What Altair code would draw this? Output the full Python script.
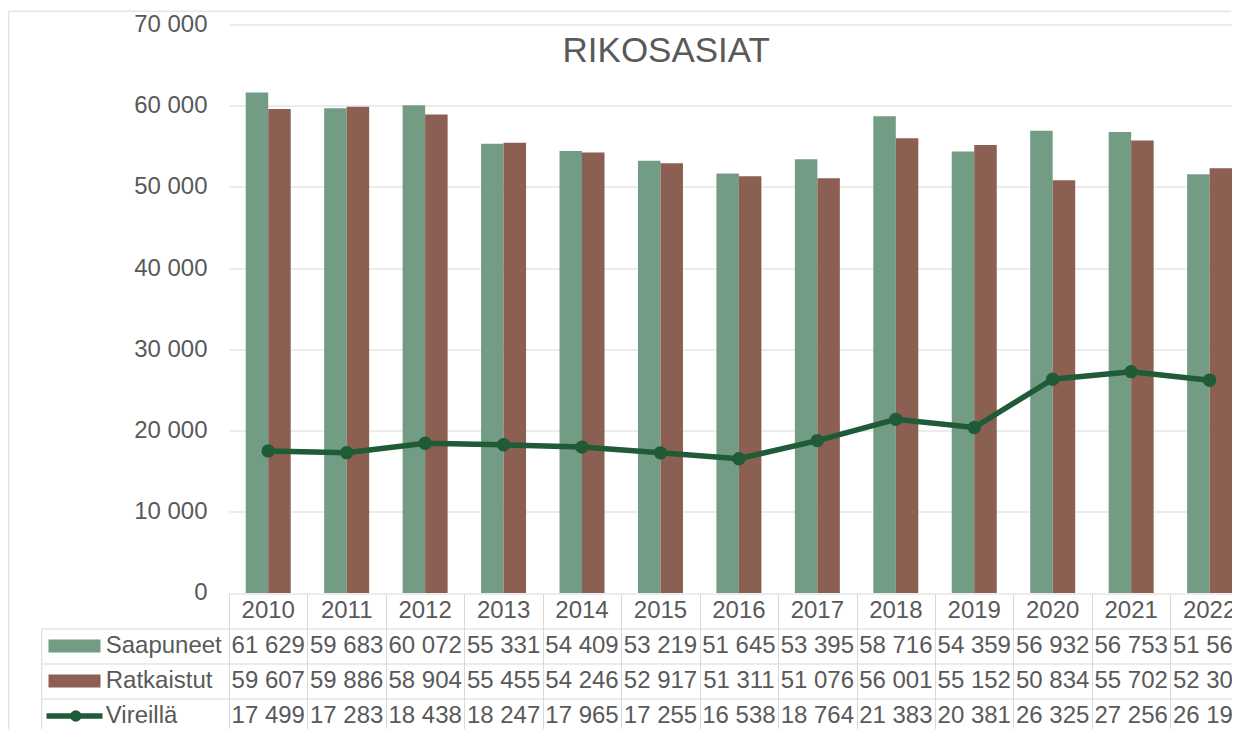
import altair as alt
import pandas as pd

# ---------------- data ----------------
years = ["2010", "2011", "2012", "2013", "2014", "2015", "2016",
         "2017", "2018", "2019", "2020", "2021", "2022"]
saapuneet = [61629, 59683, 60072, 55331, 54409, 53219, 51645,
             53395, 58716, 54359, 56932, 56753, 51566]
ratkaistut = [59607, 59886, 58904, 55455, 54246, 52917, 51311,
              51076, 56001, 55152, 50834, 55702, 52307]
vireilla = [17499, 17283, 18438, 18247, 17965, 17255, 16538,
            18764, 21383, 20381, 26325, 27256, 26198]
series_names = ["Saapuneet", "Ratkaistut", "Vireillä"]
title_text = "RIKOSASIAT"
y_ticks = [0, 10000, 20000, 30000, 40000, 50000, 60000, 70000]

# ---------------- style ----------------
FONT = "Liberation Sans"
GREEN = "#739c85"
BROWN = "#8b5f51"
LINE = "#1f5b36"
TEXT = "#595959"
GRID = "#d9d9d9"

STEP = 78.45
P_IN = 0.4264
P_OUT = 0.1066
W = 1003.1           # visible plot width: the chart is cut at the right
H = 568.5
ROW = 35
HEADER_KEY = "vuosi"
table_keys = [HEADER_KEY] + series_names
TH = ROW * len(table_keys)
LEFTCOL = 187.25


def fmt(v):
    return f"{v:,}".replace(",", " ")


bars_df = pd.DataFrame({
    "year": years * 2,
    "series": [series_names[0]] * len(years) + [series_names[1]] * len(years),
    "value": saapuneet + ratkaistut,
})
line_df = pd.DataFrame({"year": years, "value": vireilla})

table_rows = [{"year": y, "row": HEADER_KEY, "label": y} for y in years]
for name, vals in zip(series_names, [saapuneet, ratkaistut, vireilla]):
    for y, v in zip(years, vals):
        table_rows.append({"year": y, "row": name, "label": fmt(v)})
table_df = pd.DataFrame(table_rows)
rows_df = pd.DataFrame({"row": series_names})
one_df = pd.DataFrame({"k": [0]})

color_scale = alt.Scale(domain=series_names[:2], range=[GREEN, BROWN])


def band_x():
    return alt.Scale(type="band", domain=years, paddingInner=P_IN,
                     paddingOuter=P_OUT, align=1)


yscale = alt.Scale(domain=[0, 70000], nice=False)

x_axis = alt.Axis(title=None, labels=False, ticks=False, domain=False, grid=False)
y_axis = alt.Axis(
    title=None, values=y_ticks,
    labelExpr="replace(format(datum.value, ','), ',', ' ')",
    domain=False, ticks=False, grid=True, gridColor=GRID, gridWidth=1,
    labelPadding=22, labelFont=FONT, labelFontSize=24, labelColor=TEXT,
)

X = alt.X("year:N", scale=band_x(), axis=x_axis, sort=years)
Y = alt.Y("value:Q", scale=yscale, axis=y_axis)

border_top = alt.Chart(one_df).mark_rule(color=GRID, strokeWidth=1).encode(
    x=alt.value(-220.25), x2=alt.value(W - 1), y=alt.value(-13.3),
)
border_left = alt.Chart(one_df).mark_rule(color=GRID, strokeWidth=1).encode(
    x=alt.value(-220.25), y=alt.value(-13.3), y2=alt.value(H + TH + 10),
)

title = alt.Chart(pd.DataFrame({"t": [title_text]})).mark_text(
    font=FONT, fontSize=35, color=TEXT, align="center", baseline="middle"
).encode(x=alt.value(437.25), y=alt.value(26.2), text="t:N")

bars = alt.Chart(bars_df).mark_bar().encode(
    x=X,
    xOffset=alt.XOffset("series:N", sort=series_names[:2],
                        scale=alt.Scale(paddingInner=0, paddingOuter=0)),
    y=Y,
    color=alt.Color("series:N", scale=color_scale, legend=None),
)

line = alt.Chart(line_df).mark_line(color=LINE, strokeWidth=5.5).encode(x=X, y=Y)
points = alt.Chart(line_df).mark_circle(color=LINE, size=180, opacity=1).encode(x=X, y=Y)

top = alt.layer(border_top, border_left, title, bars, line, points).properties(
    width=W, height=H)

# ---------------- data table ----------------
TX = alt.X("year:N", sort=years, scale=band_x(),
           axis=alt.Axis(title=None, labels=False, ticks=False, domain=False,
                         grid=True, gridColor=GRID, gridWidth=1,
                         tickOffset=-STEP / 2))
TY = alt.Y("row:N", sort=table_keys,
           scale=alt.Scale(type="band", domain=table_keys,
                           paddingInner=0, paddingOuter=0),
           axis=alt.Axis(title=None, labels=False, values=series_names,
                         domain=True, domainColor=GRID, domainWidth=1,
                         ticks=True, tickColor=GRID, tickWidth=1,
                         tickSize=LEFTCOL, tickOffset=-ROW / 2,
                         grid=True, gridColor=GRID, gridWidth=1))

values_txt = alt.Chart(table_df).mark_text(
    font=FONT, fontSize=24, color=TEXT, baseline="middle", clip=True
).encode(x=TX, y=TY, text="label:N")

left_rule = alt.Chart(one_df).mark_rule(color=GRID, strokeWidth=1).encode(
    x=alt.value(-LEFTCOL), y=alt.value(ROW), y2=alt.value(TH + 10),
)

row_labels = alt.Chart(rows_df).mark_text(
    font=FONT, fontSize=24, color=TEXT, align="left", baseline="middle"
).encode(x=alt.value(-123.25), y=TY, text="row:N")

bar_keys = alt.Chart(rows_df).transform_filter(
    alt.FieldOneOfPredicate(field="row", oneOf=series_names[:2])
).mark_point(
    shape="M-1,-0.25H1V0.25H-1Z", size=52 * 52, filled=True, opacity=1
).encode(
    x=alt.value(-154.5), y=TY,
    color=alt.Color("row:N", scale=color_scale, legend=None),
)

line_key = alt.Chart(rows_df).transform_filter(
    alt.FieldEqualPredicate(field="row", equal=series_names[2])
).mark_point(
    shape="M-1,0H1", size=56 * 56, filled=False, opacity=1,
    color=LINE, strokeWidth=5.5
).encode(x=alt.value(-154.5), y=TY)

dot_key = alt.Chart(rows_df).transform_filter(
    alt.FieldEqualPredicate(field="row", equal=series_names[2])
).mark_circle(size=133, color=LINE, opacity=1).encode(
    x=alt.value(-153.25), y=TY
)

table = alt.layer(left_rule, values_txt, row_labels, bar_keys, line_key,
                  dot_key).properties(width=W, height=TH)

chart = alt.vconcat(top, table, spacing=0, bounds="flush").properties(
    padding={"left": 0, "top": 2.5, "right": 0, "bottom": 0}
).configure(font=FONT).configure_view(stroke=None)

chart.save("out.html", embed_options={"renderer": "svg", "actions": False})
